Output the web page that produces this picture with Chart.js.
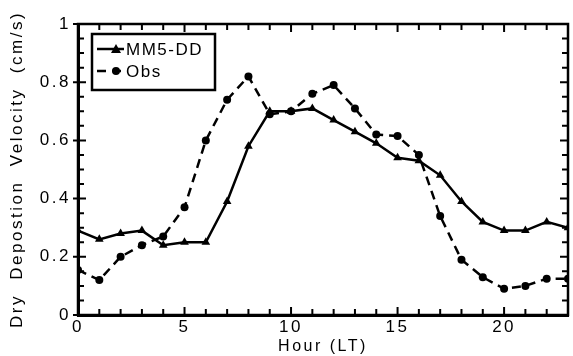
<!DOCTYPE html>
<html>
<head>
<meta charset="utf-8">
<script src="https://cdn.jsdelivr.net/npm/chart.js@4"></script>
<style>
  html, body { margin: 0; padding: 0; background: #fff; }
  #wrap { width: 573px; height: 356px; }
</style>
</head>
<body>
<div id="wrap"><canvas id="chart" width="573" height="356"></canvas></div>
<script>
const hours = [0, 1, 2, 3, 4, 5, 6, 7, 8, 9, 10, 11, 12, 13, 14, 15, 16, 17, 18, 19, 20, 21, 22, 23];
const mm5dd = [0.29, 0.26, 0.28, 0.29, 0.24, 0.25, 0.25, 0.39, 0.58, 0.70, 0.70, 0.71, 0.67, 0.63, 0.59, 0.54, 0.53, 0.48, 0.39, 0.32, 0.29, 0.29, 0.32, 0.30];
const obs = [0.155, 0.12, 0.20, 0.24, 0.27, 0.37, 0.60, 0.74, 0.82, 0.69, 0.70, 0.76, 0.79, 0.71, 0.62, 0.615, 0.55, 0.34, 0.19, 0.13, 0.09, 0.10, 0.125, 0.125];
const seriesNames = ["MM5-DD", "Obs"];
const xTitle = "Hour (LT)";
const yTitle = "Dry  Depostion  Velocity  (cm/s)";

const FONT = "'Liberation Sans', Arial, Helvetica, sans-serif";
const INK = "#000";
const SPACING = "2.5px";

// the scanned lettering is wide, so every text gets some extra tracking
const tracking = {
    id: "tracking",
    beforeDraw(chart) { chart.ctx.letterSpacing = SPACING; }
};

// closed frame plus inward tick marks on all four sides
const frameTicks = {
    id: "frameTicks",
    afterDraw(chart) {
        const { ctx, chartArea: a } = chart;
        const x = chart.scales.x, y = chart.scales.y;
        ctx.save();
        ctx.setLineDash([]);
        ctx.strokeStyle = INK;
        ctx.lineWidth = 2.5;
        ctx.strokeRect(a.left, a.top, a.right - a.left, a.bottom - a.top);
        ctx.lineWidth = 2;
        ctx.beginPath();
        for (let h = 0; h <= 23; h++) {
            const px = x.getPixelForValue(h);
            const len = h % 5 === 0 ? 8 : 6;
            ctx.moveTo(px, a.bottom); ctx.lineTo(px, a.bottom - len);
            ctx.moveTo(px, a.top); ctx.lineTo(px, a.top + len);
        }
        for (let i = 0; i <= 20; i++) {
            const py = y.getPixelForValue(i * 0.05);
            const major = i % 4 === 0;
            ctx.moveTo(a.left - (major ? 5 : 0), py); ctx.lineTo(a.left + (major ? 8 : 6), py);
            ctx.moveTo(a.right, py); ctx.lineTo(a.right - (major ? 8 : 6), py);
        }
        ctx.stroke();
        ctx.restore();
    }
};

// boxed legend in the upper left of the plot
const boxLegend = {
    id: "boxLegend",
    afterDraw(chart) {
        const { ctx } = chart;
        const bx = 92, by = 34, bw = 123, bh = 56;
        ctx.save();
        ctx.letterSpacing = "1.5px";
        ctx.fillStyle = "#fff";
        ctx.fillRect(bx, by, bw, bh);
        ctx.strokeStyle = INK;
        ctx.lineWidth = 2.5;
        ctx.strokeRect(bx, by, bw, bh);
        chart.data.datasets.forEach((ds, i) => {
            const ly = by + 15 + i * 22;
            ctx.strokeStyle = INK;
            ctx.lineWidth = 2.5;
            ctx.setLineDash(ds.borderDash || []);
            ctx.beginPath();
            ctx.moveTo(bx + 5, ly); ctx.lineTo(bx + 32, ly);
            ctx.stroke();
            ctx.setLineDash([]);
            ctx.fillStyle = INK;
            const mx = bx + 24;
            ctx.beginPath();
            if (ds.pointStyle === "triangle") {
                ctx.moveTo(mx, ly - 5); ctx.lineTo(mx + 5, ly + 4); ctx.lineTo(mx - 5, ly + 4);
            } else {
                ctx.arc(mx, ly, 4, 0, Math.PI * 2);
            }
            ctx.closePath();
            ctx.fill();
            ctx.font = "17px " + FONT;
            ctx.textBaseline = "middle";
            ctx.fillText(ds.label, bx + 34, ly + 1);
        });
        ctx.restore();
    }
};

new Chart(document.getElementById("chart"), {
    type: "line",
    data: {
        labels: hours,
        datasets: [
            {
                label: seriesNames[0],
                data: hours.map((h, i) => ({ x: h, y: mm5dd[i] })),
                borderColor: INK, backgroundColor: INK, borderWidth: 2.5,
                pointStyle: "triangle", pointRadius: 5, pointBorderWidth: 0,
                tension: 0
            },
            {
                label: seriesNames[1],
                data: hours.map((h, i) => ({ x: h, y: obs[i] })),
                borderColor: INK, backgroundColor: INK, borderWidth: 2.5,
                borderDash: [9, 6],
                pointStyle: "circle", pointRadius: 4, pointBorderWidth: 0,
                tension: 0
            }
        ]
    },
    options: {
        responsive: false,
        animation: false,
        layout: { padding: { top: 24, right: 4, left: 0, bottom: 0 } },
        plugins: { legend: { display: false }, tooltip: { enabled: false } },
        scales: {
            x: {
                type: "linear", min: 0, max: 23,
                afterFit: (s) => { s.height = 41; },
                ticks: {
                    stepSize: 5, padding: 2, color: INK, maxRotation: 0,
                    font: { family: FONT, size: 17 },
                    callback: (v) => (v % 5 === 0 ? v : "")
                },
                grid: { display: false, drawTicks: false },
                border: { display: true, color: INK, width: 3 },
                title: {
                    display: true, text: xTitle, color: INK, padding: { top: -5, bottom: 0 },
                    font: { family: FONT, size: 16 }
                }
            },
            y: {
                min: 0, max: 1,
                afterFit: (s) => { s.width = 78; },
                ticks: {
                    stepSize: 0.2, padding: 7, color: INK,
                    font: { family: FONT, size: 17 },
                    callback: (v) => String(Math.round(v * 10) / 10)
                },
                grid: { display: false, drawTicks: false },
                border: { display: true, color: INK, width: 3 },
                title: {
                    display: true, text: yTitle, color: INK, padding: { top: 7, bottom: 0 },
                    font: { family: FONT, size: 17 }
                }
            }
        }
    },
    plugins: [tracking, frameTicks, boxLegend]
});
</script>
</body>
</html>
